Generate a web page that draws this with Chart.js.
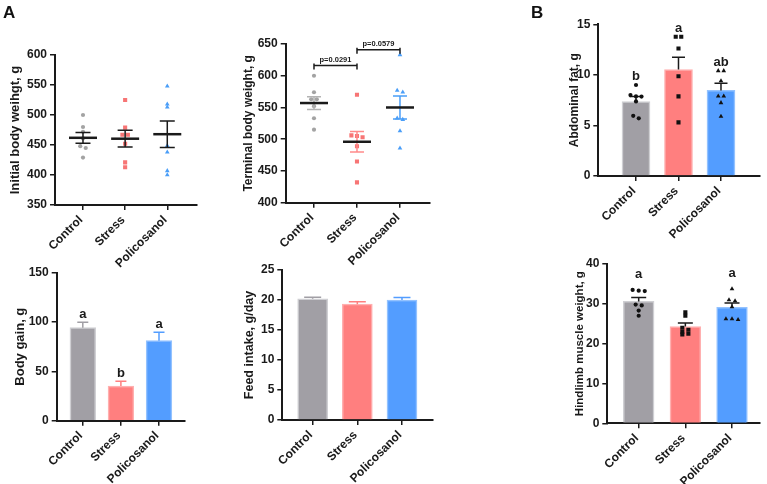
<!DOCTYPE html>
<html>
<head>
<meta charset="utf-8">
<script src="https://cdn.jsdelivr.net/npm/chart.js@4"></script>
<style>
body{margin:0;background:#fff;}
#wrap{position:relative;width:767px;height:484px;overflow:hidden;}
#wrap canvas{position:absolute;left:0;top:0;}
.tag{position:absolute;font:bold 17px "Liberation Sans",Arial,sans-serif;color:#111;line-height:1;}
</style>
</head>
<body>
<div id="wrap">
  <canvas id="c1" width="767" height="484"></canvas>
  <canvas id="c2" width="767" height="484"></canvas>
  <canvas id="c3" width="767" height="484"></canvas>
  <canvas id="c4" width="767" height="484"></canvas>
  <canvas id="c5" width="767" height="484"></canvas>
  <canvas id="c6" width="767" height="484"></canvas>
  <div class="tag" style="left:3px;top:4px">A</div>
  <div class="tag" style="left:531px;top:4px">B</div>
</div>
<script>
const groups = ['Control', 'Stress', 'Policosanol'];

// initial body weight, g (one value per rat)
const initCtrl = [500, 480, 472, 461, 448, 445, 429];
const initStress = [525, 479, 467, 467, 452, 421, 413];
const initPoli = [548, 518, 513, 449, 438, 407, 400];
const initMean = [462, 460.5, 468];
const initSem = [9, 14, 22];

// terminal body weight, g
const termCtrl = [600, 574, 563, 563, 552, 533, 515];
const termStress = [570, 506, 505, 503, 489, 465, 432];
const termPoli = [633, 577, 574, 533, 531, 513, 486];
const termMean = [557, 496, 550];
const termSem = [10, 16, 18];
const termP = ['p=0.0291', 'p=0.0579'];
const termPairs = [[0, 1], [1, 2]];
const termPY = [616, 641];

// body gain, g
const gainMean = [94.3, 35.2, 81.1];
const gainSem = [5.4, 4.7, 8.5];
const gainLetters = ['a', 'b', 'a'];

// feed intake, g/day
const feedMean = [20.2, 19.3, 20.0];
const feedSem = [0.25, 0.4, 0.4];

// abdominal fat, g
const fatCtrl = [9.0, 8.0, 7.87, 7.85, 7.37, 5.95, 5.7];
const fatStress = [13.77, 13.77, 12.6, 9.87, 7.87, 5.3];
const fatPoli = [10.4, 10.4, 9.4, 7.9, 7.9, 7.24, 5.9];
const fatMean = [7.37, 10.53, 8.46];
const fatSem = [0.5, 1.2, 0.72];
const fatLetters = ['b', 'a', 'ab'];

// hindlimb muscle weight, g
const limbCtrl = [33.5, 33.3, 33.2, 29.8, 29.6, 28.3, 27.0];
const limbStress = [27.9, 27.0, 24.0, 23.5, 23.0, 22.5, 22.3];
const limbPoli = [33.75, 31.0, 30.75, 29.2, 26.2, 26.2, 26.0];
const limbMean = [30.6, 24.3, 29.1];
const limbSem = [1.0, 0.9, 1.1];
const limbLetters = ['a', '', 'a'];

const FONT = '"Liberation Sans", Arial, sans-serif';
const INK = '#1a1a1a';
const fills = ['#a19fa5', '#ff7f7f', '#539dff'];
const edges = ['#cfcfd3', '#ffb0b0', '#93c2ff'];
const dotCols = ['#a3a3a3', '#f77575', '#4a9ef8'];
const shapes = ['circle', 'rect', 'triangle'];
const radii = [2.1, 2.9, 2.7];

// spread near-equal values sideways, prism style
function swarm(vals, idx, tol, step) {
  const order = vals.map((v, i) => i).sort((a, b) => vals[b] - vals[a]);
  const out = new Array(vals.length);
  let cl = [];
  const flush = () => {
    const n = cl.length;
    cl.forEach((k, j) => {
      let off = 0;
      if (n === 2) off = j ? 0.5 : -0.5;
      else if (n === 3) off = j - 1;
      else if (n > 3) off = j % 2 ? 0.5 : -0.5;
      out[k] = {x: idx + off * step, y: vals[k]};
    });
    cl = [];
  };
  order.forEach(k => {
    if (cl.length && vals[cl[cl.length - 1]] - vals[k] > tol) flush();
    cl.push(k);
  });
  flush();
  return out;
}

const marks = {
  id: 'marks',
  afterDatasetDraw(chart, args, o) {
    if (o.kind !== 'bar' || args.meta.type !== 'bar') return;
    const {ctx, scales: {x, y}} = chart;
    ctx.save();
    ctx.lineWidth = 1.5;
    o.mean.forEach((m, i) => {
      const px = x.getPixelForValue(i), y0 = y.getPixelForValue(m), y1 = y.getPixelForValue(m + o.sem[i]);
      ctx.strokeStyle = o.err[i];
      ctx.beginPath();
      ctx.moveTo(px, y0); ctx.lineTo(px, y1);
      ctx.moveTo(px - o.capW / 2, y1); ctx.lineTo(px + o.capW / 2, y1);
      ctx.stroke();
    });
    ctx.restore();
  },
  afterDatasetsDraw(chart, args, o) {
    if (!o.kind) return;
    const {ctx, scales: {x, y}} = chart;
    ctx.save();
    if (o.kind === 'dot') {
      o.mean.forEach((m, i) => {
        const px = x.getPixelForValue(i);
        const ym = y.getPixelForValue(m), ya = y.getPixelForValue(m + o.sem[i]), yb = y.getPixelForValue(m - o.sem[i]);
        ctx.strokeStyle = o.err[i];
        ctx.lineWidth = 1.5;
        ctx.beginPath();
        ctx.moveTo(px, ya); ctx.lineTo(px, yb);
        ctx.moveTo(px - o.capW / 2, ya); ctx.lineTo(px + o.capW / 2, ya);
        ctx.moveTo(px - o.capW / 2, yb); ctx.lineTo(px + o.capW / 2, yb);
        ctx.stroke();
        ctx.strokeStyle = INK;
        ctx.lineWidth = 2.5;
        ctx.beginPath();
        ctx.moveTo(px - o.meanW / 2, ym); ctx.lineTo(px + o.meanW / 2, ym);
        ctx.stroke();
      });
    }
    if (o.letters) {
      ctx.fillStyle = INK;
      ctx.font = 'bold 13px ' + FONT;
      ctx.textAlign = 'center';
      ctx.textBaseline = 'alphabetic';
      o.letters.forEach((t, i) => {
        if (!t) return;
        let top = o.mean[i] + o.sem[i];
        if (o.pts) top = Math.max(top, ...o.pts[i]);
        ctx.fillText(t, x.getPixelForValue(i), y.getPixelForValue(top) - o.gap);
      });
    }
    if (o.pvals) {
      ctx.strokeStyle = INK;
      ctx.fillStyle = INK;
      ctx.lineWidth = 1.5;
      ctx.font = 'bold 7.5px ' + FONT;
      ctx.textAlign = 'center';
      ctx.textBaseline = 'bottom';
      o.pvals.forEach((t, k) => {
        const xa = x.getPixelForValue(o.pairs[k][0]), xb = x.getPixelForValue(o.pairs[k][1]);
        const py = y.getPixelForValue(o.py[k]);
        ctx.beginPath();
        ctx.moveTo(xa, py - 2); ctx.lineTo(xa, py + 4);
        ctx.moveTo(xb, py - 2); ctx.lineTo(xb, py + 4);
        ctx.moveTo(xa, py); ctx.lineTo(xb, py);
        ctx.stroke();
        ctx.fillText(t, (xa + xb) / 2, py - 2);
      });
    }
    ctx.restore();
  }
};
Chart.register(marks);

function panel(id, o) {
  const ds = [];
  const tol = (o.yr[1] - o.yr[0]) * 0.018;
  // room under the x axis for the slanted names (labels are clipped to the axis box)
  const xH = Math.min(80, 484 - o.box[3]);
  if (o.bars) {
    ds.push({
      type: 'bar', order: 2,
      data: o.mean.map((m, i) => ({x: i, y: m})),
      backgroundColor: fills, borderColor: edges, borderWidth: 1.5,
      barThickness: o.barW
    });
  }
  if (o.pts) {
    o.pts.forEach((vals, i) => ds.push({
      type: 'scatter', order: 1,
      data: swarm(vals, i, tol, 0.13),
      pointStyle: shapes[i], pointRadius: radii[i], pointHoverRadius: radii[i],
      backgroundColor: o.bars ? '#111' : dotCols[i], borderWidth: 0
    }));
  }
  const axisLine = {display: true, drawOnChartArea: false, drawTicks: true, tickLength: 5, color: INK, lineWidth: 1.5};
  new Chart(document.getElementById(id), {
    type: 'bar',
    data: {datasets: ds},
    options: {
      responsive: false,
      animation: false,
      layout: {padding: {left: o.box[0] - o.yW, top: o.box[1], right: 767 - o.box[2], bottom: 484 - o.box[3] - xH}},
      plugins: {
        legend: {display: false},
        tooltip: {enabled: false},
        marks: {kind: o.bars ? 'bar' : 'dot', mean: o.mean, sem: o.sem, err: o.err, capW: o.capW, meanW: o.meanW,
                pts: o.pts, letters: o.letters, gap: o.gap || 4, pvals: o.pvals, pairs: o.pairs, py: o.py}
      },
      scales: {
        x: {
          type: 'linear', min: o.xr[0], max: o.xr[1], offset: false,
          afterFit: s => { s.height = xH; },
          afterBuildTicks: s => { s.ticks = groups.map((g, i) => ({value: i})); },
          ticks: {callback: v => groups[v], minRotation: 45, maxRotation: 45, autoSkip: false,
                  font: {family: FONT, size: 12, weight: 'bold'}, color: INK, padding: 3, labelOffset: -2},
          grid: {...axisLine, offset: false},
          border: {color: INK, width: 2}
        },
        y: {
          min: o.yr[0], max: o.yr[1],
          afterFit: s => { s.width = o.yW; },
          ticks: {stepSize: o.yr[2], font: {family: FONT, size: 12, weight: 'bold'}, color: INK, padding: 3},
          grid: axisLine,
          border: {color: INK, width: 2},
          title: {display: true, text: o.title, font: {family: FONT, size: o.tS, weight: 'bold'}, color: INK, padding: 0}
        }
      }
    }
  });
}

const black3 = [INK, INK, INK];

panel('c1', {box: [55, 55, 196.7, 205], yW: 47.2, xr: [-0.664, 2.698], yr: [350, 600, 50],
  title: 'Initial body weihgt, g', tS: 13, pts: [initCtrl, initStress, initPoli], mean: initMean, sem: initSem,
  err: black3, meanW: 28, capW: 15});

panel('c2', {box: [285.7, 44, 430, 202.7], yW: 44, xr: [-0.658, 2.698], yr: [400, 650, 50],
  title: 'Terminal body weight, g', tS: 12, pts: [termCtrl, termStress, termPoli], mean: termMean, sem: termSem,
  err: ['#b3b3b3', '#ff8a8a', '#4a9ef8'], meanW: 28, capW: 14, pvals: termP, pairs: termPairs, py: termPY});

panel('c3', {box: [598.3, 24.3, 760, 176], yW: 30.5, xr: [-0.887, 2.918], yr: [0, 15, 5], bars: true, barW: 28,
  title: 'Abdominal fat, g', tS: 12, pts: [fatCtrl, fatStress, fatPoli], mean: fatMean, sem: fatSem,
  err: black3, capW: 13, letters: fatLetters, gap: 5});

panel('c4', {box: [56.7, 272.7, 184.3, 420.7], yW: 44, xr: [-0.685, 2.664], yr: [0, 150, 50], bars: true, barW: 25.7,
  title: 'Body gain, g', tS: 13, mean: gainMean, sem: gainSem, err: fills, capW: 11, letters: gainLetters, gap: 4});

panel('c5', {box: [282.3, 270, 432.7, 420], yW: 40.5, xr: [-0.68, 2.688], yr: [0, 25, 5], bars: true, barW: 30,
  title: 'Feed intake, g/day', tS: 12.5, mean: feedMean, sem: feedSem, err: fills, capW: 17});

panel('c6', {box: [607.3, 264, 760, 423.3], yW: 34.5, xr: [-0.673, 2.6], yr: [0, 40, 10], bars: true, barW: 30.7,
  title: 'Hindlimb muscle weight, g', tS: 11.5, pts: [limbCtrl, limbStress, limbPoli], mean: limbMean, sem: limbSem,
  err: black3, capW: 15, letters: limbLetters, gap: 12});
</script>
</body>
</html>
